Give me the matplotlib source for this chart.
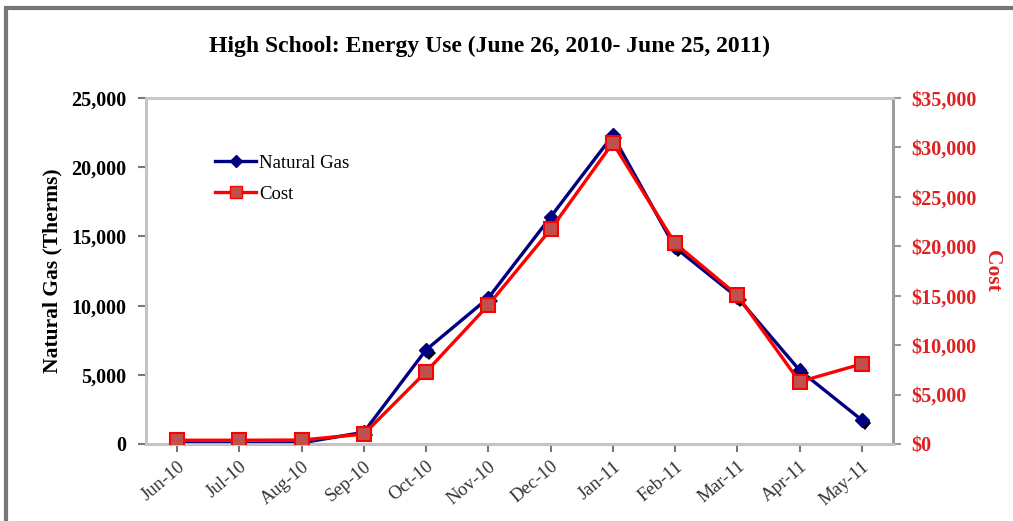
import matplotlib.pyplot as plt
import matplotlib.patheffects as pe
from matplotlib.patches import Rectangle
from matplotlib.ticker import FuncFormatter

# data
months = ["Jun-10", "Jul-10", "Aug-10", "Sep-10", "Oct-10", "Nov-10",
          "Dec-10", "Jan-11", "Feb-11", "Mar-11", "Apr-11", "May-11"]
gas = [60, 40, 80, 850, 6800, 10550, 16400, 22300, 14200, 10600, 5330, 1730]
cost = [380, 380, 400, 1000, 7300, 14050, 21700, 30450, 20300, 15050, 6300, 8100]

plt.rcParams['font.family'] = ['Liberation Serif', 'DejaVu Serif']

fig = plt.figure(figsize=(10.13, 5.21), dpi=100)
ax = fig.add_axes([0.144, 0.1478, 0.7375, 0.6641])
ax2 = ax.twinx()

x = range(len(months))

# natural gas line with shadowed diamonds
ax.plot(x, gas, color="#000080", lw=2.4, zorder=3)
ax.plot(x, gas, ls="none", marker="D", ms=7, color="#000080", zorder=4,
        path_effects=[pe.SimplePatchShadow(offset=(2, -2), shadow_rgbFace="black", alpha=1.0),
                      pe.Normal()])

ax2.plot(x, cost, color="#ff0000", lw=2.4, marker="s", ms=10,
         mfc="#c0504d", mec="#ff0000", mew=1.5, zorder=3)

ax.set_xlim(-0.5, len(months) - 0.5)
ax.set_ylim(0, 25000)
ax2.set_ylim(0, 35000)
ax.set_yticks(range(0, 25001, 5000))
ax2.set_yticks(range(0, 35001, 5000))
ax.yaxis.set_major_formatter(FuncFormatter(lambda v, p: f"{int(v):,}"))
ax2.yaxis.set_major_formatter(FuncFormatter(lambda v, p: f"${int(v):,}"))

ax.set_xticks(list(x))
ax.set_xticklabels(months, rotation=40, ha="right", rotation_mode="anchor",
                   fontsize=13.5, color="#333333")
for lab in ax.get_yticklabels():
    lab.set_fontsize(14.5)
    lab.set_fontweight("bold")
for lab in ax2.get_yticklabels():
    lab.set_fontsize(14.5)
    lab.set_fontweight("bold")
    lab.set_color("#e02020")

# spines: light grey frame, darker axis lines
for a in (ax, ax2):
    for s in a.spines.values():
        s.set_color("#c8c8c8")
        s.set_linewidth(2)
ax.spines["left"].set_color("#777777")
ax.spines["bottom"].set_color("#777777")
ax2.spines["right"].set_color("#999999")
ax.tick_params(axis="y", direction="out", length=6, width=1.5, color="#777777", pad=8)
ax.tick_params(axis="x", direction="out", length=6, width=1.5, color="#777777", pad=4)
ax2.tick_params(axis="y", direction="out", length=6, width=1.5, color="#999999", pad=7)

ax.set_ylabel("Natural Gas (Therms)", fontsize=15.5, fontweight="bold")
ax.yaxis.set_label_coords(-0.112, 0.5)
ax2.set_ylabel("Cost", fontsize=15.5, fontweight="bold", color="#e02020", rotation=-90)
ax2.yaxis.set_label_coords(1.146, 0.5)

fig.text(0.483, 1 - 46 / 521, "High School: Energy Use (June 26, 2010- June 25, 2011)",
         fontsize=17, fontweight="bold", ha="center", va="center")

# legend
h1 = plt.Line2D([], [], color="#000080", lw=2.4, marker="D", ms=6)
h2 = plt.Line2D([], [], color="#ff0000", lw=2.4, marker="s", ms=8,
                mfc="#c0504d", mec="#ff0000")
ax.legend([h1, h2], ["Natural Gas", "Cost"], loc="upper left",
          bbox_to_anchor=(0.07, 0.885), frameon=False, fontsize=13.5,
          handlelength=2.2, handletextpad=0.15, labelspacing=0.75)

# outer frame of the chart object
fig.patches.append(Rectangle((0.006, -0.02), 1.1, 1.005, transform=fig.transFigure,
                             fill=False, edgecolor="#777777", lw=3))

fig.savefig("out.png", dpi=100)
